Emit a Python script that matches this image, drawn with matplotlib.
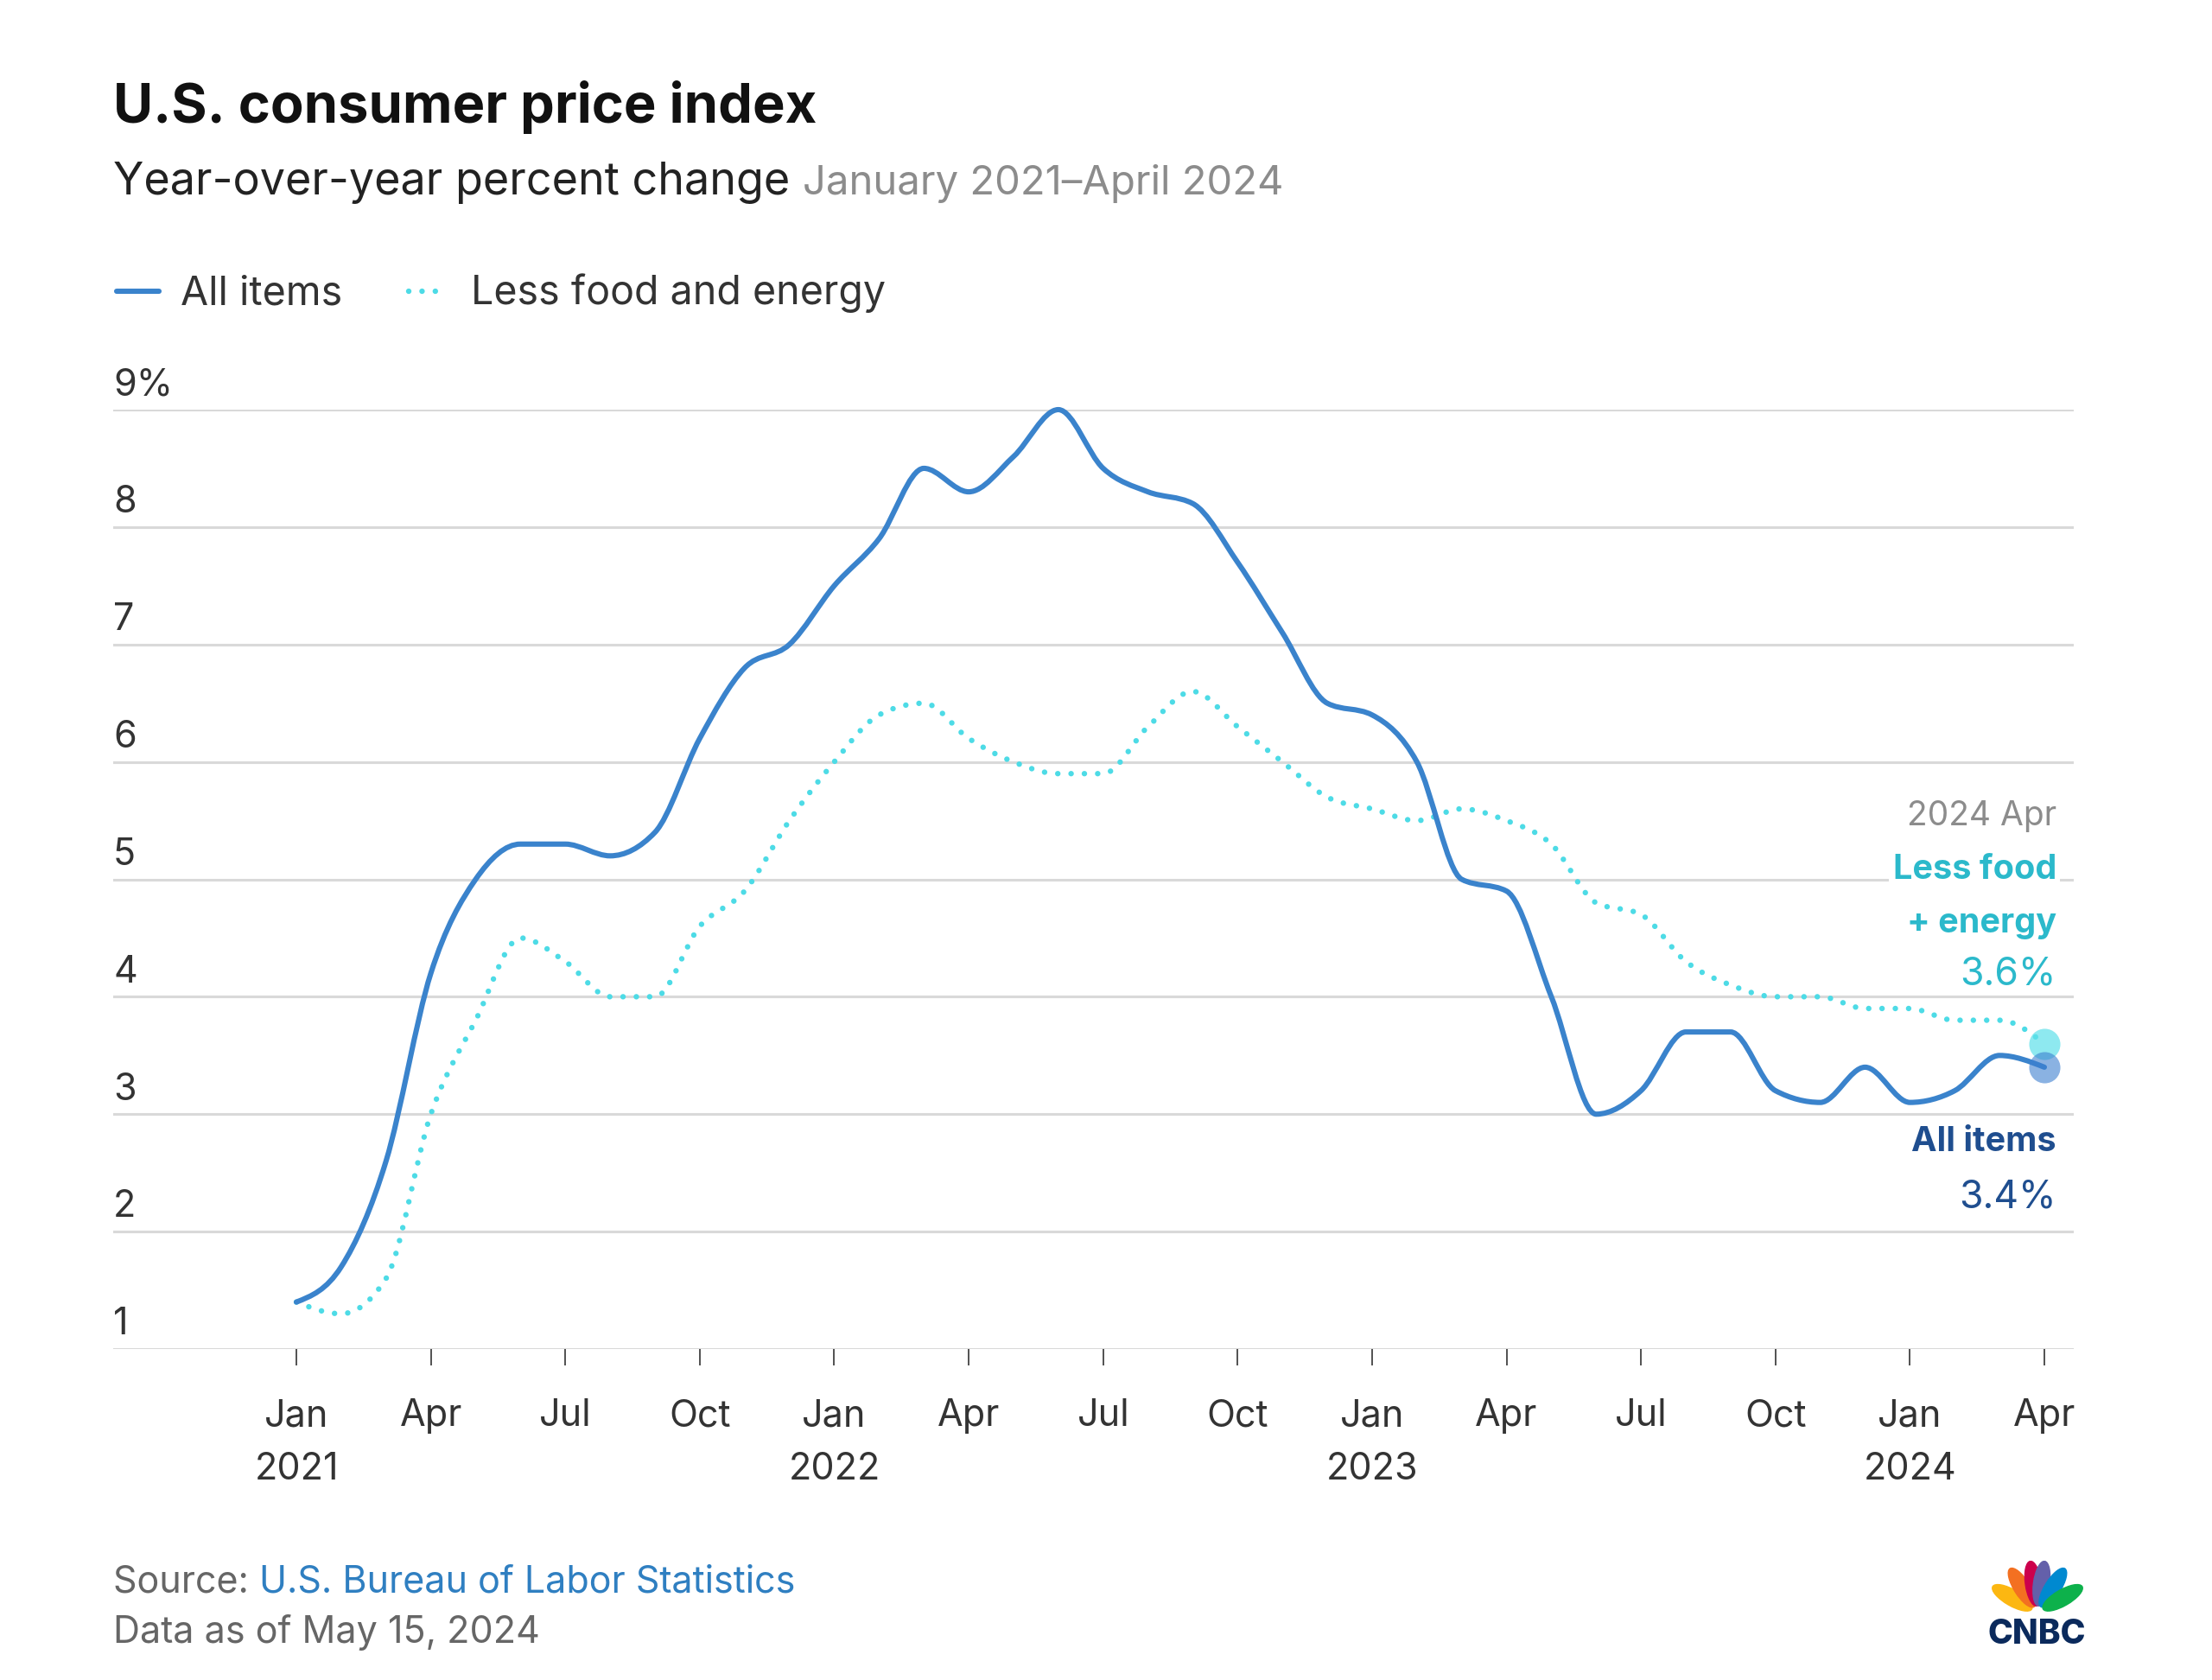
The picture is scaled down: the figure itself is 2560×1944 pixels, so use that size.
#!/usr/bin/env python3
"""CNBC-style chart: U.S. CPI year-over-year change, Jan 2021 - Apr 2024."""
import matplotlib
matplotlib.use("Agg")
import matplotlib.pyplot as plt
import matplotlib.transforms as mtransforms
from matplotlib.lines import Line2D
from matplotlib.patches import Ellipse, PathPatch
from matplotlib.path import Path
import numpy as np

W, H = 2560, 1944

# monthly values, Jan 2021 .. Apr 2024 (percent, y/y)
all_items = [1.4, 1.7, 2.6, 4.2, 5.0, 5.3, 5.3, 5.2, 5.4, 6.2, 6.8, 7.0,
             7.5, 7.9, 8.5, 8.3, 8.6, 9.0, 8.5, 8.3, 8.2, 7.7, 7.1, 6.5,
             6.4, 6.0, 5.0, 4.9, 4.0, 3.0, 3.2, 3.7, 3.7, 3.2, 3.1, 3.4,
             3.1, 3.2, 3.5, 3.4]
less_food_energy = [1.4, 1.3, 1.6, 3.0, 3.8, 4.5, 4.3, 4.0, 4.0, 4.6, 4.9, 5.5,
                    6.0, 6.4, 6.5, 6.2, 6.0, 5.9, 5.9, 6.3, 6.6, 6.3, 6.0, 5.7,
                    5.6, 5.5, 5.6, 5.5, 5.3, 4.8, 4.7, 4.3, 4.1, 4.0, 4.0, 3.9,
                    3.9, 3.8, 3.8, 3.6]
tick_months = ["Jan", "Apr", "Jul", "Oct"] * 3 + ["Jan", "Apr"]
tick_years = ["2021", "", "", "", "2022", "", "", "", "2023", "", "", "", "2024", ""]
y_ticks = [1, 2, 3, 4, 5, 6, 7, 8, 9]
y_labels = ["1", "2", "3", "4", "5", "6", "7", "8", "9%"]

BLUE = "#3a83cc"
CYAN = "#4ddbe6"
TEAL = "#2bb9cb"
NAVY = "#1f4e8f"
GRID = "#d9d9d9"
TXT = "#333333"
GRAY = "#8c8c8c"

plt.rcParams["font.family"] = ["Inter", "DejaVu Sans"]


def fx(px):
    return px / W


def fy(py):
    return 1 - py / H


def monotone_path(x, y):
    """Cubic Bezier path through the points, d3 curveMonotoneX style."""
    x = np.asarray(x, float)
    y = np.asarray(y, float)
    h = np.diff(x)
    s = np.diff(y) / h
    t = np.zeros(len(x))
    for i in range(1, len(x) - 1):
        s0, s1 = s[i - 1], s[i]
        p = (s0 * h[i] + s1 * h[i - 1]) / (h[i - 1] + h[i])
        t[i] = (np.sign(s0) + np.sign(s1)) * min(abs(s0), abs(s1), 0.5 * abs(p))
    t[0] = (3 * s[0] - t[1]) / 2
    t[-1] = (3 * s[-1] - t[-2]) / 2
    verts = [(x[0], y[0])]
    codes = [Path.MOVETO]
    for i in range(len(x) - 1):
        d = h[i] / 3
        verts += [(x[i] + d, y[i] + d * t[i]),
                  (x[i + 1] - d, y[i + 1] - d * t[i + 1]),
                  (x[i + 1], y[i + 1])]
        codes += [Path.CURVE4] * 3
    return Path(verts, codes)


fig = plt.figure(figsize=(W / 100, H / 100), dpi=100)

# plot frame: x from 131 to 2400 px, y=1 at 1561 px, y=9 at 474 px
x_first, x_last = 343, 2366
n = len(all_items)
per_month = (x_last - x_first) / (n - 1)
ax = fig.add_axes([fx(131), fy(1561), fx(2400) - fx(131), (1561 - 474) / H])
ax.set_xlim((131 - x_first) / per_month, (2400 - x_first) / per_month)
ax.set_ylim(1, 9)
for sp in ax.spines.values():
    sp.set_visible(False)

ax.set_yticks(y_ticks)
ax.yaxis.grid(True, color=GRID, lw=2.2)
ax.set_axisbelow(True)
ax.tick_params(axis="y", length=0, labelleft=False)

xs = np.arange(n)
tick_pos = xs[::3]
ax.set_xticks(tick_pos)
ax.tick_params(axis="x", direction="out", length=14, width=1.2, color=TXT,
               labelbottom=False)

# y labels sit on top of their gridlines
ylab_tr = mtransforms.offset_copy(
    mtransforms.blended_transform_factory(ax.transAxes, ax.transData),
    fig=fig, y=12, units="points")
for v, lab in zip(y_ticks, y_labels):
    ax.text(0, v, lab, transform=ylab_tr, ha="left", va="baseline",
            fontsize=31, color=TXT)

xlab_tr = mtransforms.blended_transform_factory(ax.transData, fig.transFigure)
for p, m, yr in zip(tick_pos, tick_months, tick_years):
    ax.text(p, fy(1650), m, transform=xlab_tr, ha="center", va="baseline",
            fontsize=31, color=TXT)
    if yr:
        ax.text(p, fy(1712), yr, transform=xlab_tr, ha="center", va="baseline",
                fontsize=31, color=TXT)

core = PathPatch(monotone_path(xs, less_food_energy), fill=False, edgecolor=CYAN,
                 lw=4.6, linestyle=(0, (0.01, 2.4)), capstyle="round",
                 clip_on=False, zorder=3)
ax.add_patch(core)
allp = PathPatch(monotone_path(xs, all_items), fill=False, edgecolor=BLUE,
                 lw=4.4, capstyle="round", joinstyle="round",
                 clip_on=False, zorder=4)
ax.add_patch(allp)

ax.plot(xs[-1], less_food_energy[-1], "o", ms=26, color="#5fe1ea", alpha=0.7,
        mec="none", zorder=5, clip_on=False)
ax.plot(xs[-1], all_items[-1], "o", ms=26, color="#3d7fd0", alpha=0.6,
        mec="none", zorder=6, clip_on=False)

# end labels
rx = fx(2380)
fig.text(rx, fy(955), "2024 Apr", ha="right", va="baseline", fontsize=28, color=GRAY)
fig.text(rx, fy(1017), "Less food", ha="right", va="baseline", fontsize=28.5,
         fontweight="bold", color=TEAL,
         bbox=dict(facecolor="white", edgecolor="none", pad=3))
fig.text(rx, fy(1079), "+ energy", ha="right", va="baseline", fontsize=28.5,
         fontweight="bold", color=TEAL)
fig.text(rx, fy(1139), "3.6%", ha="right", va="baseline", fontsize=32, color=TEAL)
fig.text(rx, fy(1332), "All items", ha="right", va="baseline", fontsize=28.5,
         fontweight="bold", color=NAVY)
fig.text(rx, fy(1397), "3.4%", ha="right", va="baseline", fontsize=32, color=NAVY)

# titles
fig.text(fx(131), fy(142), "U.S. consumer price index", ha="left", va="baseline",
         fontsize=45.5, fontweight="bold", color="#111111")
sub = fig.text(fx(131), fy(225), "Year-over-year percent change ", ha="left",
               va="baseline", fontsize=37.5, color="#222222")
fig.canvas.draw()
bb = sub.get_window_extent()
fig.text(bb.x1 / W, fy(225), "January 2021\u2013April 2024", ha="left",
         va="baseline", fontsize=34, color=GRAY)

# legend
fig.add_artist(Line2D([fx(135), fx(184)], [fy(337)] * 2, color=BLUE, lw=4.4,
                      solid_capstyle="round"))
fig.text(fx(209), fy(352), "All items", ha="left", va="baseline", fontsize=33.5,
         color=TXT)
fig.add_artist(Line2D([fx(473), fx(507)], [fy(337)] * 2, color=CYAN, lw=4.6,
                      linestyle=(0, (0.01, 2.4)), dash_capstyle="round"))
fig.text(fx(545), fy(352), "Less food and energy", ha="left", va="baseline",
         fontsize=33.5, color=TXT)

# footer
src = fig.text(fx(131), fy(1842), "Source: ", ha="left", va="baseline",
               fontsize=31, color="#666666")
fig.canvas.draw()
bb = src.get_window_extent()
fig.text(bb.x1 / W, fy(1842), "U.S. Bureau of Labor Statistics", ha="left",
         va="baseline", fontsize=31, color="#2f7fc1")
fig.text(fx(131), fy(1901), "Data as of May 15, 2024", ha="left", va="baseline",
         fontsize=31, color="#666666")

# CNBC logo: peacock feathers + wordmark
lax = fig.add_axes([fx(2304), fy(1868), fx(2412) - fx(2304), (1868 - 1806) / H])
lax.set_xlim(-0.93, 0.93)
lax.set_ylim(0, 1.07)
lax.axis("off")
feathers = [("#fcb711", 150), ("#f37021", 122), ("#cc004c", 98),
            ("#6460aa", 82), ("#0089d0", 58), ("#0db14b", 30)]
for col, ang in feathers:
    a = np.radians(ang)
    r = 0.58
    lax.add_patch(Ellipse((r * np.cos(a), r * np.sin(a) + 0.04),
                          width=0.9, height=0.32, angle=ang, color=col))
fig.text(fx(2357), fy(1902), "CNBC", ha="center", va="baseline", fontsize=28,
         fontweight="heavy", color="#0b2a5c")

fig.savefig("out.png", dpi=100)
